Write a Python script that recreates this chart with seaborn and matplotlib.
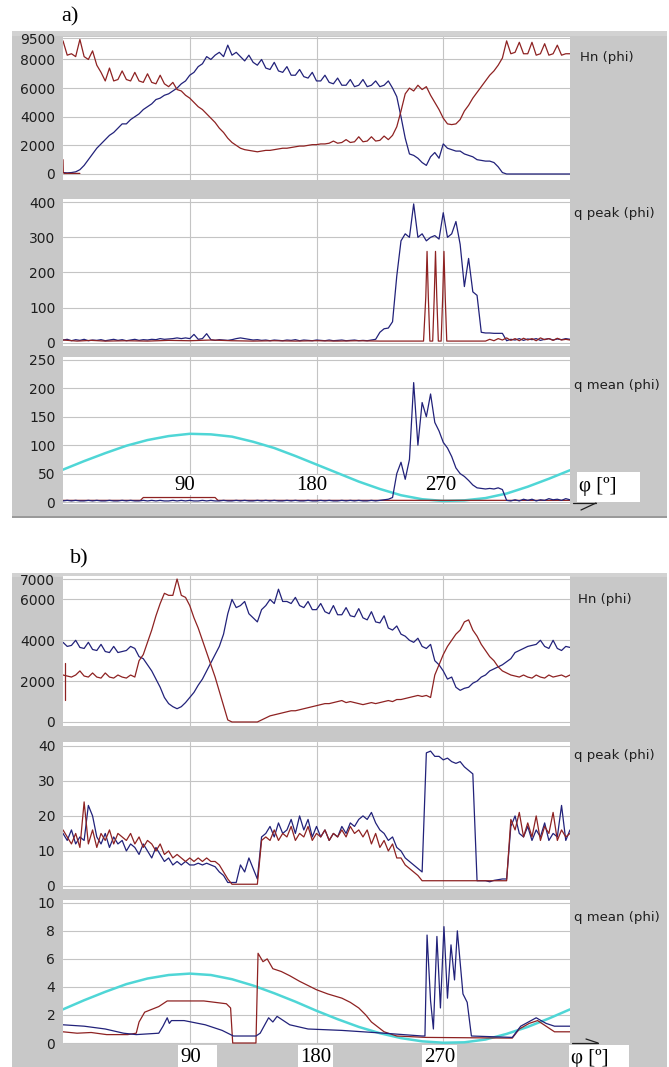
import numpy as np
import matplotlib
matplotlib.use('Agg')
import matplotlib.pyplot as plt
import seaborn as sns
from matplotlib.patches import Rectangle
from matplotlib.lines import Line2D

sns.set_style('white')
plt.rcParams['font.family'] = ['DejaVu Sans']

W, H = 669, 1067

# sampling angles (degrees) of the dense traces
phi3 = np.arange(0, 361, 3)
phi15 = np.arange(0, 361, 15)

# ---------------- a) ----------------
hn_a_red = [
    9300, 8300, 8400, 8200, 9400, 8200, 8000, 8600, 7600, 7100,
    6500, 7400, 6500, 6600, 7200, 6600, 6500, 7100, 6500, 6400,
    7000, 6400, 6300, 6900, 6300, 6100, 6400, 5900, 5800, 5500,
    5300, 5000, 4700, 4500, 4200, 3900, 3600, 3200, 2900, 2500,
    2200, 2000, 1800, 1700, 1650, 1600, 1550, 1600, 1650, 1650,
    1700, 1750, 1800, 1800, 1850, 1900, 1950, 1950, 2000, 2050,
    2050, 2100, 2100, 2150, 2300, 2150, 2200, 2400, 2200, 2250,
    2600, 2250, 2300, 2600, 2300, 2350, 2650, 2400, 2700, 3300,
    4400, 5600, 6000, 5800, 6200, 5900, 6100, 5500, 5000, 4500,
    3900, 3500, 3450, 3500, 3800, 4400, 4800, 5300, 5700, 6100,
    6500, 6900, 7200, 7600, 8100, 9300, 8400, 8500, 9200, 8400,
    8400, 9200, 8300, 8400, 9100, 8300, 8400, 9000, 8300, 8400,
    8400]
hn_a_blue = [
    100, 80, 100, 150, 300, 600, 1000, 1400, 1800, 2100,
    2400, 2700, 2900, 3200, 3500, 3500, 3800, 4000, 4200, 4500,
    4700, 4900, 5200, 5300, 5500, 5600, 5800, 6000, 6300, 6500,
    6900, 7100, 7500, 7700, 8200, 8000, 8300, 8500, 8200, 9000,
    8300, 8500, 8200, 7900, 8300, 7800, 7600, 8000, 7400, 7300,
    7800, 7200, 7100, 7500, 6900, 6900, 7300, 6800, 6700, 7100,
    6500, 6500, 6900, 6400, 6300, 6700, 6200, 6200, 6600, 6100,
    6200, 6600, 6100, 6200, 6500, 6100, 6200, 6500, 6000, 5400,
    4000, 2500, 1400, 1300, 1100, 800, 600, 1200, 1500, 1100,
    2100, 1800, 1700, 1600, 1600, 1400, 1300, 1200, 1000, 950,
    900, 900, 800, 500, 100, 0, 0, 0, 0, 0,
    0, 0, 0, 0, 0, 0, 0, 0, 0, 0,
    0]
hn_a_red_start_x = [0, 0.2, 1, 12]
hn_a_red_start_y = [1000, 100, 40, 40]

qp_a_blue = [
    8, 10, 6, 9, 7, 10, 6, 8, 7, 9,
    6, 8, 10, 7, 9, 6, 8, 10, 7, 9,
    8, 10, 9, 12, 10, 11, 12, 14, 12, 14,
    12, 24, 10, 12, 26, 9, 7, 9, 8, 7,
    9, 12, 14, 12, 10, 8, 9, 7, 8, 6,
    8, 7, 6, 8, 7, 9, 6, 8, 7, 6,
    8, 7, 6, 8, 6, 7, 8, 6, 7, 8,
    6, 7, 6, 8, 10, 30, 40, 42, 60, 190,
    290, 310, 300, 395, 300, 310, 290, 300, 305, 295,
    370, 300, 310, 345, 280, 160, 240, 145, 135, 30,
    28, 28, 27, 27, 27, 6, 10, 8, 12, 7,
    11, 9, 12, 7, 10, 12, 8, 11, 9, 12,
    10]
qp_a_red_x = [0, 10, 20, 30, 45, 60, 75, 90, 105, 120, 135, 150, 165, 180,
              195, 210, 225, 240, 250, 256, 257.6, 258.5, 259.4, 260.5,
              262.5, 263.6, 264.5, 265.4, 266.5, 268.5, 269.6, 270.5, 271.4,
              272.5, 285, 300, 303, 306, 309, 312, 315, 318, 321, 324, 327,
              330, 333, 336, 339, 342, 345, 348, 351, 354, 357, 360]
qp_a_red_y = [8, 5, 7, 5, 6, 5, 7, 6, 8, 6, 5, 6, 5, 6,
              5, 6, 5, 5, 5, 5, 130, 260, 130, 5,
              5, 130, 260, 130, 5, 5, 130, 260, 130,
              5, 5, 5, 10, 6, 12, 8, 14, 7, 12, 6, 13,
              8, 12, 6, 14, 9, 12, 7, 13, 8, 10, 8]

qm_a_blue = [
    2, 3, 2, 3, 2, 2, 3, 2, 3, 2,
    2, 3, 2, 2, 3, 2, 3, 2, 2, 3,
    2, 3, 2, 3, 2, 2, 3, 2, 3, 2,
    3, 2, 2, 3, 2, 3, 2, 2, 3, 2,
    2, 3, 2, 3, 2, 2, 3, 2, 3, 2,
    3, 2, 2, 3, 2, 3, 2, 2, 3, 2,
    2, 3, 2, 3, 2, 2, 3, 2, 3, 2,
    3, 2, 2, 3, 2, 3, 4, 5, 8, 50,
    70, 40, 75, 210, 100, 175, 150, 190, 140, 125,
    105, 95, 80, 60, 50, 45, 38, 30, 25, 24,
    23, 24, 23, 25, 22, 3, 2, 4, 2, 5,
    3, 5, 2, 4, 3, 6, 4, 5, 3, 6,
    4]
qm_a_red_x = [0, 55, 57, 108, 110, 360]
qm_a_red_y = [3, 3, 8, 8, 3, 3]
qm_a_cyan = [57, 72, 86, 99, 109, 116, 120, 119, 115, 106, 95, 81, 66,
             51, 36, 23, 12, 5, 2, 3, 7, 15, 27, 41, 56]

# ---------------- b) ----------------
hn_b_red = [
    2300, 2250, 2200, 2300, 2500, 2250, 2200, 2400, 2200, 2150,
    2400, 2200, 2150, 2300, 2200, 2150, 2300, 2200, 3000, 3300,
    3900, 4500, 5200, 5800, 6300, 6200, 6200, 7000, 6200, 6100,
    5700, 5100, 4600, 4000, 3400, 2800, 2200, 1500, 800, 100,
    0, 0, 0, 0, 0, 0, 0, 100, 200, 300,
    350, 400, 450, 500, 550, 550, 600, 650, 700, 750,
    800, 850, 900, 900, 950, 1000, 1050, 950, 1000, 950,
    900, 850, 900, 950, 900, 950, 1000, 1050, 1000, 1100,
    1100, 1150, 1200, 1250, 1300, 1250, 1300, 1200, 2300, 2800,
    3300, 3700, 4000, 4300, 4500, 4900, 5000, 4500, 4200, 3800,
    3500, 3200, 3000, 2700, 2500, 2400, 2300, 2250, 2200, 2300,
    2200, 2150, 2300, 2200, 2150, 2300, 2200, 2250, 2300, 2200,
    2300]
hn_b_blue = [
    3900, 3700, 3750, 4000, 3650, 3600, 3900, 3550, 3500, 3800,
    3450, 3400, 3700, 3400, 3450, 3500, 3700, 3600, 3200, 3100,
    2800, 2500, 2100, 1700, 1200, 900, 750, 650, 750, 950,
    1200, 1450, 1800, 2100, 2500, 2900, 3300, 3700, 4300, 5300,
    6000, 5600, 5700, 5900, 5300, 5100, 4900, 5500, 5700, 6000,
    5800, 6500, 5900, 5900, 5800, 6100, 5700, 5600, 5900, 5500,
    5500, 5800, 5400, 5300, 5700, 5250, 5250, 5600, 5200, 5150,
    5550, 5100, 5000, 5400, 4900, 4850, 5200, 4600, 4500, 4700,
    4300, 4200, 4000, 3900, 4100, 3700, 3600, 3800, 3000, 2800,
    2500, 2100, 2200, 1700, 1550, 1650, 1700, 1900, 2000, 2200,
    2300, 2500, 2600, 2700, 2800, 2950, 3100, 3400, 3500, 3600,
    3700, 3750, 3800, 4000, 3700, 3600, 4000, 3600, 3500, 3700,
    3650]
hn_b_red_start_x = [1.2, 1.2]
hn_b_red_start_y = [1100, 2900]

qp_b_blue = [
    15, 13, 16, 12, 14, 13, 23, 20, 14, 12,
    15, 11, 14, 12, 13, 10, 12, 11, 9, 12,
    10, 8, 11, 9, 7, 8, 6, 7, 6, 7,
    6, 6, 6.5, 6, 6.5, 6, 5.5, 4, 3, 1,
    1, 1, 6, 4, 8, 5, 2, 14, 15, 17,
    14, 18, 15, 16, 19, 15, 20, 16, 19, 14,
    17, 14, 16, 13, 15, 14, 17, 15, 18, 17,
    19, 20, 19, 21, 18, 16, 15, 13, 14, 11,
    10, 8, 7, 6, 5, 4, 38, 38.5, 37, 37,
    36, 36.5, 35.5, 35, 35.5, 34, 33, 32, 1.5, 1.5,
    1.5, 1.2, 1.6, 1.8, 2, 2, 17, 20, 15, 14,
    17, 13, 16, 14, 18, 13, 15, 14, 23, 13,
    16]
qp_b_red = [
    16, 14, 12, 15, 11, 24, 12, 16, 11, 15,
    13, 16, 12, 15, 14, 13, 15, 12, 14, 11,
    13, 12, 10, 12, 9, 10, 8, 9, 8, 7,
    8, 7, 8, 7, 8, 7, 7, 6, 4, 2,
    0.5, 0.5, 0.5, 0.5, 0.5, 0.5, 0.5, 13, 14, 13,
    16, 13, 15, 14, 17, 13, 15, 14, 17, 13,
    15, 14, 16, 13, 15, 14, 16, 14, 17, 15,
    16, 14, 16, 12, 15, 11, 13, 10, 12, 8,
    8, 6, 5, 4, 3, 1.5, 1.5, 1.5, 1.5, 1.5,
    1.5, 1.5, 1.5, 1.5, 1.5, 1.5, 1.5, 1.5, 1.5, 1.5,
    1.5, 1.5, 1.5, 1.5, 1.5, 1.5, 19, 16, 21, 14,
    18, 14, 20, 13, 17, 15, 21, 13, 16, 14,
    15]

qm_b_blue_x = [0, 15, 30, 43, 52, 68, 71, 74, 75.5, 77, 86, 101, 113, 121,
               137, 140, 146, 149, 152, 161, 174, 198, 228, 255, 257, 258.5,
               261, 263, 265.5, 268, 270.5, 273, 275.5, 278, 280, 284, 287,
               290, 319, 325, 336, 343, 349, 360]
qm_b_blue_y = [1.3, 1.2, 1.0, 0.7, 0.6, 0.7, 1.2, 1.8, 1.4, 1.6, 1.6, 1.3,
               0.9, 0.5, 0.5, 0.7, 1.8, 1.5, 1.9, 1.3, 1.0, 0.9, 0.7, 0.5,
               0.5, 7.7, 3.0, 1.0, 7.6, 2.5, 8.3, 3.2, 7.0, 4.5, 8.0, 3.5,
               2.9, 0.5, 0.4, 1.2, 1.8, 1.4, 1.2, 1.2]
qm_b_red_x = [0, 10, 20, 31, 46, 52, 54, 58, 68, 74, 83, 100, 116, 119,
              120.5, 137, 138.5, 142, 145, 149, 155, 161, 168, 174, 180,
              188, 198, 204, 210, 215, 219, 228, 237, 258, 319, 324, 331,
              337, 343, 349, 360]
qm_b_red_y = [0.8, 0.7, 0.75, 0.6, 0.6, 0.7, 1.5, 2.2, 2.6, 3.0, 3.0, 3.0,
              2.8, 2.5, 0.0, 0.0, 6.4, 5.8, 6.0, 5.3, 5.1, 4.8, 4.4, 4.1,
              3.8, 3.5, 3.2, 2.9, 2.5, 2.0, 1.5, 0.8, 0.5, 0.4, 0.35, 1.0,
              1.4, 1.6, 1.2, 0.8, 0.8]
qm_b_cyan = [2.4, 3.05, 3.65, 4.2, 4.6, 4.85, 4.95, 4.85, 4.55, 4.1, 3.55,
             2.95, 2.3, 1.7, 1.15, 0.7, 0.35, 0.12, 0.02, 0.05, 0.25, 0.65,
             1.15, 1.75, 2.4]

BLUE = '#22227a'
RED = '#8e2222'
CYAN = '#4fd6d6'
GRAY = '#c8c8c8'
TXT = '#1e1e1e'
SERIF = ['Liberation Serif', 'DejaVu Serif']

fig = plt.figure(figsize=(W / 100, H / 100), dpi=100)


def px_box(x0, y0, x1, y1):
    return [x0 / W, 1 - y1 / H, (x1 - x0) / W, (y1 - y0) / H]


def fig_rect(x0, y0, x1, y1, color, z):
    b = px_box(x0, y0, x1, y1)
    fig.add_artist(Rectangle((b[0], b[1]), b[2], b[3], transform=fig.transFigure,
                             facecolor=color, edgecolor='none', zorder=z))


def fig_line(xs, ys, color='#202020', lw=0.9):
    fig.add_artist(Line2D([x / W for x in xs], [1 - y / H for y in ys],
                          transform=fig.transFigure, color=color, lw=lw, zorder=6))


def trace(ax, x, y, color, lw=0.9):
    sns.lineplot(x=np.asarray(x, float), y=np.asarray(y, float), ax=ax,
                 color=color, lw=lw, sort=False, estimator=None)


def make_axes(box, ylim, yticks, label, label_x, label_y):
    ax = fig.add_axes(px_box(*box))
    ax.set_facecolor('white')
    ax.set_xlim(0, 360)
    ax.set_ylim(*ylim)
    ax.set_xticks([90, 180, 270])
    ax.tick_params(axis='x', length=0, labelbottom=False)
    ax.set_yticks(yticks)
    ax.set_yticklabels([str(t) for t in yticks])
    ax.tick_params(axis='y', direction='out', length=4, width=1, color='#303030',
                   pad=1.5, labelsize=10, labelcolor=TXT)
    ax.grid(True, color='#c4c4c4', lw=0.8)
    ax.set_axisbelow(True)
    for sp in ax.spines.values():
        sp.set_visible(False)
    fig.text(label_x / W, 1 - label_y / H, label, ha='left', va='center',
             fontsize=9.5, color=TXT)
    return ax


# grey frames
fig_rect(12, 31, 667, 518, GRAY, -5)
fig_rect(12, 31, 667, 36, '#d2d2d2', -4)
fig_rect(12, 516, 667, 518, '#9a9a9a', -4)
fig_rect(12, 573, 667, 1067, GRAY, -5)
fig_rect(12, 573, 667, 577, '#d2d2d2', -4)

# ---- a) ----
ax = make_axes((63, 37, 570, 180), (-420, 9570), [0, 2000, 4000, 6000, 8000, 9500],
               'Hn (phi)', 580, 57)
trace(ax, phi3, hn_a_blue, BLUE)
trace(ax, phi3, hn_a_red, RED)
trace(ax, hn_a_red_start_x, hn_a_red_start_y, RED)
ax.set_xlabel('')
ax.set_ylabel('')

ax = make_axes((63, 199, 570, 346), (-9, 409), [0, 100, 200, 300, 400],
               'q peak (phi)', 574, 214)
trace(ax, phi3, qp_a_blue, BLUE)
trace(ax, qp_a_red_x, qp_a_red_y, RED)
ax.set_xlabel('')
ax.set_ylabel('')

ax = make_axes((63, 357, 570, 504), (-3.4, 255), [0, 50, 100, 150, 200, 250],
               'q mean (phi)', 574, 386)
trace(ax, phi15, qm_a_cyan, CYAN, lw=1.8)
trace(ax, qm_a_red_x, qm_a_red_y, RED)
trace(ax, phi3, qm_a_blue, BLUE)
ax.set_xlabel('')
ax.set_ylabel('')

# ---- b) ----
ax = make_axes((63, 576, 570, 726), (-196, 7147), [0, 2000, 4000, 6000, 7000],
               'Hn (phi)', 578, 600)
trace(ax, phi3, hn_b_blue, BLUE)
trace(ax, phi3, hn_b_red, RED)
trace(ax, hn_b_red_start_x, hn_b_red_start_y, RED)
ax.set_xlabel('')
ax.set_ylabel('')

ax = make_axes((63, 742, 570, 889), (-0.86, 41.1), [0, 10, 20, 30, 40],
               'q peak (phi)', 574, 756)
trace(ax, phi3, qp_b_blue, BLUE)
trace(ax, phi3, qp_b_red, RED)
ax.set_xlabel('')
ax.set_ylabel('')

ax = make_axes((63, 900, 570, 1044), (-0.07, 10.2), [0, 2, 4, 6, 8, 10],
               'q mean (phi)', 574, 917)
trace(ax, phi15, qm_b_cyan, CYAN, lw=1.8)
trace(ax, qm_b_red_x, qm_b_red_y, RED)
trace(ax, qm_b_blue_x, qm_b_blue_y, BLUE)
ax.set_xlabel('')
ax.set_ylabel('')

# panel letters
fig.text(70 / W, 1 - 17 / H, 'a)', ha='center', va='center', fontsize=16,
         family=SERIF, color='black')
fig.text(79 / W, 1 - 559 / H, 'b)', ha='center', va='center', fontsize=16,
         family=SERIF, color='black')

# angle labels, a)
for xc, s in [(185, '90'), (312, '180'), (441, '270')]:
    fig.text(xc / W, 1 - 485 / H, s, ha='center', va='center', fontsize=15,
             family=SERIF, color='black', zorder=7,
             bbox=dict(facecolor='white', edgecolor='none', pad=0.5))
fig_rect(577, 472, 640, 502, 'white', 5)
fig.text(579 / W, 1 - 487 / H, 'φ [º]', ha='left', va='center', fontsize=15,
         family=SERIF, color='black', zorder=7)
fig_line([573, 596], [503, 503])
fig_line([581, 596], [510, 503])

# angle labels, b)
for x0, x1, s in [(178, 217, '90'), (298, 333, '180'), (422, 457, '270'),
                  (569, 629, 'φ [º]')]:
    fig_rect(x0, 1045, x1, 1067, 'white', 5)
    fig.text((x0 + 2) / W, 1 - 1058 / H, s, ha='left', va='center', fontsize=15,
             family=SERIF, color='black', zorder=7)
fig_line([572, 598], [1043, 1043])
fig_line([586, 598], [1039, 1043])

fig.savefig('out.png', dpi=100)
